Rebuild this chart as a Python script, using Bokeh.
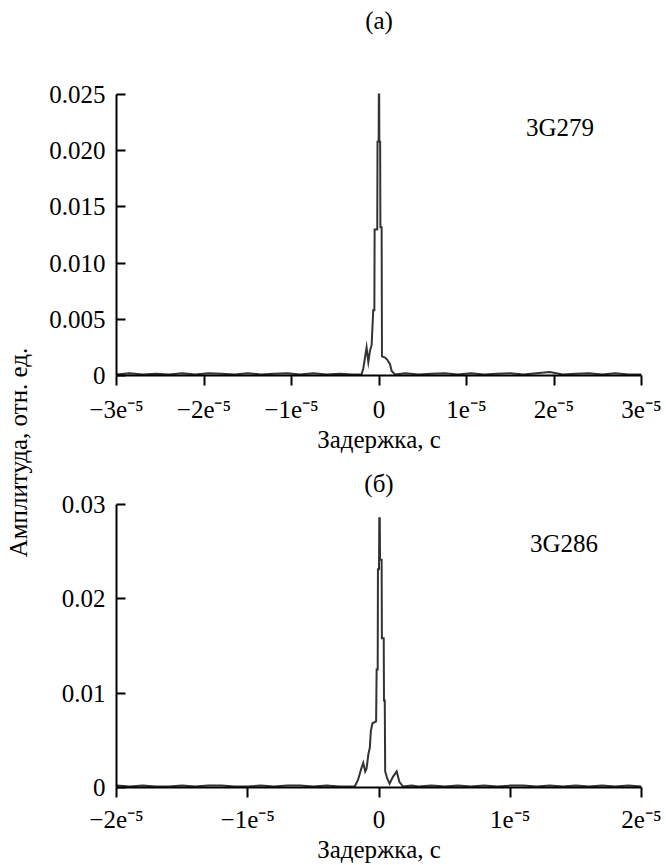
import math
from bokeh.plotting import figure
from bokeh.models import Range1d, FixedTicker, Label, ColumnDataSource
from bokeh.layouts import row, column
from bokeh.embed import file_html
from bokeh.resources import INLINE

# ---------------- data (delay in microseconds, amplitude in rel. units) ----------------
top_x_us = [-30, -28.5, -27, -25.5, -24, -22.5, -21, -19.5, -18, -16.5, -15, -13.5, -12, -10.5, -9, -7.5, -6, -4.5, -3, -2.0,
            -1.8, -1.6, -1.42, -1.22, -1.03, -0.84, -0.66, -0.53, -0.50, -0.20, -0.17, -0.04, -0.02, 0.02, 0.04, 0.13, 0.16, 0.30, 0.34, 0.70, 0.95, 1.26, 1.45, 1.83,
            3, 4.5, 6, 7.5, 9, 10.5, 12, 13.5, 15, 16.5, 18, 19.5, 21, 22.5, 24, 25.5, 27, 28.5, 30]
top_amp = [0.0001, 0.0002, 0.0001, 0.00015, 0.0001, 0.0002, 0.0001, 0.0002, 0.00015, 0.0001, 0.0002, 0.0001, 0.00015, 0.0002, 0.0001, 0.0002, 0.0001, 0.00015, 0.0001, 0.0001,
           0.0006, 0.0016, 0.0025, 0.0012, 0.0022, 0.0027, 0.0058, 0.0058, 0.0130, 0.0130, 0.0208, 0.0208, 0.0250, 0.0250, 0.0208, 0.0208, 0.0132, 0.0132, 0.0017, 0.0016, 0.0014, 0.0010, 0.0004, 0.0001,
           0.0002, 0.0001, 0.00015, 0.0002, 0.0001, 0.0002, 0.0001, 0.00015, 0.0002, 0.0001, 0.0002, 0.0003, 0.0001, 0.00015, 0.0002, 0.0001, 0.0002, 0.0001, 0.0001]

bot_x_us = [-20, -19, -18, -17, -16, -15, -14, -13, -12, -11, -10, -9, -8, -7, -6, -5, -4, -3, -2.4, -1.85,
            -1.6, -1.35, -1.2, -1.05, -0.95, -0.80, -0.70, -0.62, -0.50, -0.22, -0.18, -0.10, -0.08, 0.0, 0.02, 0.06, 0.08, 0.20, 0.22, 0.36, 0.38, 0.44, 0.47, 0.62, 0.81, 1.05, 1.35, 1.55, 1.83,
            2.5, 3, 4, 5, 6, 7, 8, 9, 10, 11, 12, 13, 14, 15, 16, 17, 18, 19, 20]
bot_amp = [0.0002, 0.0001, 0.0002, 0.0001, 0.0001, 0.0002, 0.0001, 0.0002, 0.0002, 0.0001, 0.0001, 0.0002, 0.0001, 0.0002, 0.0002, 0.0001, 0.0002, 0.0001, 0.0001, 0.0001,
           0.0008, 0.0020, 0.0026, 0.0017, 0.0020, 0.0036, 0.0042, 0.0060, 0.0068, 0.0070, 0.0125, 0.0125, 0.0231, 0.0231, 0.0285, 0.0285, 0.0241, 0.0241, 0.0158, 0.0158, 0.0092, 0.0092, 0.0017, 0.0010, 0.0004, 0.0011, 0.0017, 0.0006, 0.0001,
           0.0002, 0.0001, 0.0002, 0.0001, 0.0002, 0.0001, 0.0002, 0.0001, 0.0002, 0.0002, 0.0001, 0.0002, 0.0001, 0.0002, 0.0001, 0.0002, 0.0001, 0.0002, 0.0001]

top_xticks = [-3e-5, -2e-5, -1e-5, 0, 1e-5, 2e-5, 3e-5]
top_xtick_labels = ["\u22123e\u207b\u2075", "\u22122e\u207b\u2075", "\u22121e\u207b\u2075", "0",
                    "1e\u207b\u2075", "2e\u207b\u2075", "3e\u207b\u2075"]
top_yticks = [0, 0.005, 0.010, 0.015, 0.020, 0.025]
top_ytick_labels = ["0", "0.005", "0.010", "0.015", "0.020", "0.025"]

bot_xticks = [-2e-5, -1e-5, 0, 1e-5, 2e-5]
bot_xtick_labels = ["\u22122e\u207b\u2075", "\u22121e\u207b\u2075", "0", "1e\u207b\u2075", "2e\u207b\u2075"]
bot_yticks = [0, 0.01, 0.02, 0.03]
bot_ytick_labels = ["0", "0.01", "0.02", "0.03"]

panel_titles = ["(а)", "(б)"]
sample_names = ["3G279", "3G286"]
x_title = "Задержка, с"
y_title = "Амплитуда, отн. ед."

FONT = "Liberation Serif"
FS = "25px"
LINE = "#333333"


def make_panel(xs_us, amps, xr, yr, ybounds, xticks, xlabels, yticks, ylabels, width, height,
               border_bottom, tick_standoff, label_standoff):
    # the frame reaches the top of the canvas so the panel letter can sit inside it;
    # the y axis itself is bounded to the data range
    p = figure(width=width, height=height, x_range=Range1d(*xr), y_range=Range1d(*yr),
               output_backend="svg", toolbar_location=None, title=None,
               min_border_top=0, min_border_bottom=border_bottom,
               min_border_left=71, min_border_right=25)
    p.outline_line_color = None
    p.background_fill_color = "white"
    p.border_fill_color = "white"
    p.xgrid.visible = False
    p.ygrid.visible = False
    src = ColumnDataSource(dict(x=[v * 1e-6 for v in xs_us], y=amps))
    p.line("x", "y", source=src, line_color=LINE, line_width=2, line_join="miter")

    for ax in (p.xaxis[0], p.yaxis[0]):
        ax.axis_line_width = 2
        ax.axis_line_color = "black"
        ax.major_tick_line_width = 2
        ax.major_tick_line_color = "black"
        ax.minor_tick_line_color = None
        ax.major_label_text_font = FONT
        ax.major_label_text_font_size = FS
        ax.major_label_text_color = "black"

    xa = p.xaxis[0]
    xa.ticker = FixedTicker(ticks=xticks)
    xa.major_label_overrides = dict(zip(xticks, xlabels))
    xa.major_tick_out = 10
    xa.major_tick_in = 0
    xa.major_label_standoff = tick_standoff
    xa.axis_label = x_title
    xa.axis_label_text_font = FONT
    xa.axis_label_text_font_size = FS
    xa.axis_label_text_font_style = "normal"
    xa.axis_label_text_color = "black"
    xa.axis_label_standoff = label_standoff

    ya = p.yaxis[0]
    ya.bounds = ybounds
    ya.ticker = FixedTicker(ticks=yticks)
    ya.major_label_overrides = dict(zip(yticks, ylabels))
    ya.major_tick_out = 0
    ya.major_tick_in = 9
    ya.major_label_standoff = 11
    return p


def add_text(p, x, y, text, align="center"):
    p.add_layout(Label(x=x, y=y, text=text, text_font=FONT, text_font_size=FS,
                       text_color="black", text_align=align, text_baseline="middle"))


# top panel: canvas 0..466 px, frame 0..375 (0.025 at 94 px), x frame 115.7..640.7
p1 = make_panel(top_x_us, top_amp, (-3e-5, 3e-5), (0, 0.033363), (0, 0.025),
                top_xticks, top_xtick_labels, top_yticks, top_ytick_labels,
                621, 466, 91, 10, 0)
add_text(p1, 0, 0.03158, panel_titles[0])
add_text(p1, 1.68e-5, 0.02206, sample_names[0], align="left")

# bottom panel: canvas 466..865 px, frame 466..790 (0.03 at 504 px)
p2 = make_panel(bot_x_us, bot_amp, (-2e-5, 2e-5), (0, 0.033986), (0, 0.03),
                bot_xticks, bot_xtick_labels, bot_yticks, bot_ytick_labels,
                621, 399, 75, 8, 0)
add_text(p2, 0, 0.03220, panel_titles[1])
add_text(p2, 1.15e-5, 0.0258, sample_names[1], align="left")

# left strip holding the shared rotated y-axis title
pl = figure(width=45, height=865, x_range=Range1d(0, 45), y_range=Range1d(0, 865),
            output_backend="svg", toolbar_location=None, title=None,
            min_border=0, min_border_left=0, min_border_right=0, min_border_top=0, min_border_bottom=0)
pl.axis.visible = False
pl.xgrid.visible = False
pl.ygrid.visible = False
pl.outline_line_color = None
pl.add_layout(Label(x=18, y=865 - 452, text=y_title, angle=math.pi / 2, text_font=FONT,
                    text_font_size=FS, text_color="black", text_align="center", text_baseline="middle"))

layout = row(pl, column(p1, p2))
open("out.html", "w").write(file_html(layout, INLINE))
